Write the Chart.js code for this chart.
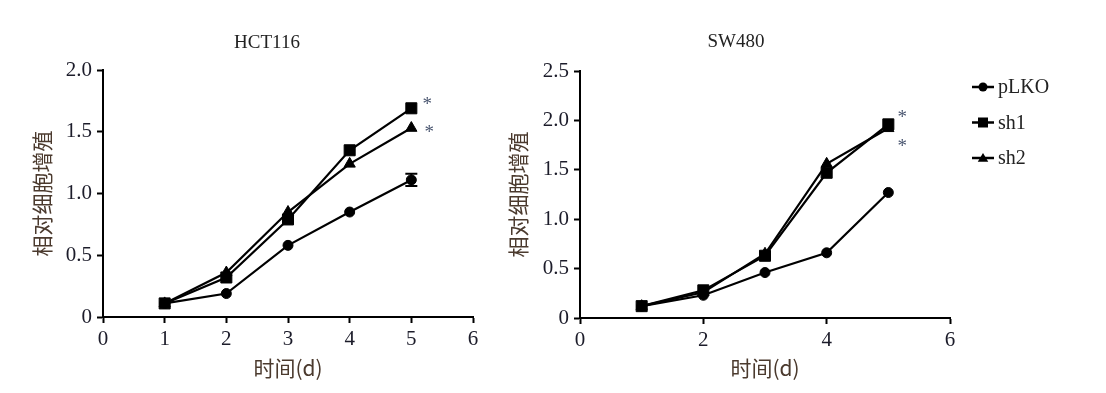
<!DOCTYPE html>
<html>
<head>
<meta charset="utf-8">
<script src="https://cdn.jsdelivr.net/npm/chart.js@4.4.1/dist/chart.umd.min.js"></script>
<style>
  html, body { margin: 0; padding: 0; background: #fff; }
  body { width: 1106px; height: 393px; position: relative; overflow: hidden; }
  canvas { position: absolute; top: 0; }
  #hctChart { left: 0; }
  #swChart { left: 500px; }
</style>
</head>
<body>
<canvas id="hctChart" width="500" height="393"></canvas>
<canvas id="swChart" width="606" height="393"></canvas>
<script>
// --- Daten ---
const TAGE = [1, 2, 3, 4, 5];
const SERIEN = ['pLKO', 'sh1', 'sh2'];

const HCT_PLKO = [0.11, 0.19, 0.58, 0.85, 1.11];
const HCT_PLKO_FEHLER = [0, 0, 0, 0, 0.05];
const HCT_SH1 = [0.11, 0.32, 0.79, 1.35, 1.69];
const HCT_SH2 = [0.11, 0.36, 0.85, 1.24, 1.53];

const SW_PLKO = [0.12, 0.23, 0.46, 0.66, 1.27];
const SW_PLKO_FEHLER = [0, 0, 0, 0, 0];
const SW_SH1 = [0.12, 0.28, 0.63, 1.47, 1.96];
const SW_SH2 = [0.12, 0.26, 0.65, 1.56, 1.92];

const HCT_X_TICKS = [0, 1, 2, 3, 4, 5, 6];
const SW_X_TICKS = [0, 2, 4, 6];
const HCT_Y_TICKS = [0, 0.5, 1.0, 1.5, 2.0];
const SW_Y_TICKS = [0, 0.5, 1.0, 1.5, 2.0, 2.5];

const Y_TITEL = '相对细胞增殖';
const X_TITEL = '时间(d)';

// --- Stil ---
const SERIF = "'Liberation Serif', 'Noto Sans CJK SC', serif";
const CJK = "'Noto Sans CJK SC', 'Liberation Serif', serif";
const FARBE_TICKS = '#1c1c2a';
const FARBE_ACHSENTITEL = '#4b3a2e';
const FARBE_STERN = '#4a5670';
const MARKER = [
  { style: 'circle', radius: 5 },
  { style: 'rect', radius: 7.8 },
  { style: 'triangle', radius: 6.5 },
];

function tickLabel(v) {
  return v === 0 ? '0' : v.toFixed(1);
}

// Marker für die Legende selbst zeichnen
function zeichneMarker(ctx, style, x, y, r) {
  ctx.beginPath();
  if (style === 'circle') {
    ctx.arc(x, y, r, 0, Math.PI * 2);
  } else if (style === 'rect') {
    ctx.rect(x - r, y - r, 2 * r, 2 * r);
  } else {
    ctx.moveTo(x, y - r);
    ctx.lineTo(x + r * 1.05, y + r * 0.75);
    ctx.lineTo(x - r * 1.05, y + r * 0.75);
    ctx.closePath();
  }
  ctx.fill();
}

const beschriftung = {
  id: 'beschriftung',
  afterDatasetsDraw(chart, args, opts) {
    const ctx = chart.ctx;
    const xs = chart.scales.x;
    const ys = chart.scales.y;
    ctx.save();

    // Panel-Titel
    ctx.fillStyle = '#222';
    ctx.font = `19px ${SERIF}`;
    ctx.textAlign = 'center';
    ctx.textBaseline = 'middle';
    ctx.fillText(opts.titel, opts.titelX, opts.titelY);

    // Fehlerbalken
    ctx.strokeStyle = '#000';
    ctx.lineWidth = 2;
    opts.fehler.forEach((f, i) => {
      if (!f) return;
      const px = xs.getPixelForValue(TAGE[i]);
      const oben = ys.getPixelForValue(opts.mittel[i] + f);
      const unten = ys.getPixelForValue(opts.mittel[i] - f);
      ctx.beginPath();
      ctx.moveTo(px, oben); ctx.lineTo(px, unten);
      ctx.moveTo(px - 6, oben); ctx.lineTo(px + 6, oben);
      ctx.moveTo(px - 6, unten); ctx.lineTo(px + 6, unten);
      ctx.stroke();
    });

    // Signifikanz-Sterne
    ctx.fillStyle = FARBE_STERN;
    ctx.font = `19px ${SERIF}`;
    ctx.textBaseline = 'alphabetic';
    opts.sterne.forEach(s => {
      const daten = chart.data.datasets[s.dataset].data;
      const letzter = daten[daten.length - 1];
      const px = xs.getPixelForValue(letzter.x) + s.dx;
      const py = ys.getPixelForValue(letzter.y) + s.dy;
      ctx.fillText('*', px, py + 10);
    });

    // Legende (nur rechtes Panel)
    if (opts.legende) {
      const { x, y0, abstand } = opts.legende;
      ctx.textAlign = 'left';
      ctx.textBaseline = 'middle';
      ctx.font = `20px ${SERIF}`;
      SERIEN.forEach((name, i) => {
        const y = y0 + i * abstand;
        ctx.strokeStyle = '#000';
        ctx.fillStyle = '#000';
        ctx.lineWidth = 2.5;
        ctx.beginPath();
        ctx.moveTo(x, y); ctx.lineTo(x + 22, y);
        ctx.stroke();
        const m = MARKER[i];
        zeichneMarker(ctx, m.style, x + 11, y, m.style === 'circle' ? 4.5 : 5);
        ctx.fillStyle = '#222';
        ctx.fillText(name, x + 26, y + 1);
      });
    }
    ctx.restore();
  }
};

function datensatz(name, werte, idx) {
  return {
    label: name,
    data: TAGE.map((t, i) => ({ x: t, y: werte[i] })),
    borderColor: '#000',
    backgroundColor: '#000',
    borderWidth: 2.2,
    tension: 0,
    pointStyle: MARKER[idx].style,
    pointRadius: MARKER[idx].radius,
    pointBackgroundColor: '#000',
    pointBorderColor: '#000',
    pointBorderWidth: 1,
    clip: false,
  };
}

function erstelleChart(canvasId, cfg) {
  const tickFont = { family: SERIF, size: 21 };
  const titelFont = { family: CJK, size: 21 };
  return new Chart(document.getElementById(canvasId), {
    type: 'line',
    data: {
      datasets: [
        datensatz(SERIEN[0], cfg.plko, 0),
        datensatz(SERIEN[1], cfg.sh1, 1),
        datensatz(SERIEN[2], cfg.sh2, 2),
      ],
    },
    options: {
      responsive: false,
      animation: false,
      devicePixelRatio: 1,
      layout: { padding: { left: 0, top: cfg.oben, right: cfg.rechts, bottom: 0 } },
      plugins: {
        legend: { display: false },
        tooltip: { enabled: false },
        beschriftung: {
          titel: cfg.titel, titelX: cfg.titelX, titelY: cfg.titelY,
          mittel: cfg.plko, fehler: cfg.fehler,
          sterne: cfg.sterne, legende: cfg.legende,
        },
      },
      scales: {
        x: {
          type: 'linear',
          min: 0,
          max: 6,
          afterFit: s => { s.height = cfg.xHoehe; },
          afterBuildTicks: s => { s.ticks = cfg.xTicks.map(v => ({ value: v })); },
          ticks: { color: FARBE_TICKS, font: tickFont, padding: 4, maxRotation: 0 },
          grid: { drawOnChartArea: false, drawTicks: true, tickLength: 6, tickColor: '#000', tickWidth: 2, color: '#000' },
          border: { display: true, color: '#000', width: 2 },
          title: { display: true, text: X_TITEL, color: FARBE_ACHSENTITEL, font: titelFont, padding: { top: 0, bottom: 12 } },
        },
        y: {
          type: 'linear',
          min: 0,
          max: cfg.yMax,
          afterFit: s => { s.width = cfg.yBreite; },
          afterBuildTicks: s => { s.ticks = cfg.yTicks.map(v => ({ value: v })); },
          ticks: { color: FARBE_TICKS, font: tickFont, padding: 5, callback: v => tickLabel(v) },
          grid: { drawOnChartArea: false, drawTicks: true, tickLength: 6, tickColor: '#000', tickWidth: 2, color: '#000' },
          border: { display: true, color: '#000', width: 2 },
          title: { display: true, text: Y_TITEL, color: FARBE_ACHSENTITEL, font: titelFont, padding: { top: cfg.yTitelAbstand, bottom: 0 } },
        },
      },
    },
    plugins: [beschriftung],
  });
}

erstelleChart('hctChart', {
  plko: HCT_PLKO, sh1: HCT_SH1, sh2: HCT_SH2, fehler: HCT_PLKO_FEHLER,
  xTicks: HCT_X_TICKS, yTicks: HCT_Y_TICKS, yMax: 2.0,
  oben: 70, rechts: 27, xHoehe: 76, yBreite: 103, yTitelAbstand: 29,
  titel: 'HCT116', titelX: 267, titelY: 43,
  sterne: [{ dataset: 1, dx: 16, dy: -8 }, { dataset: 2, dx: 18, dy: 0 }],
  legende: null,
});

erstelleChart('swChart', {
  plko: SW_PLKO, sh1: SW_SH1, sh2: SW_SH2, fehler: SW_PLKO_FEHLER,
  xTicks: SW_X_TICKS, yTicks: SW_Y_TICKS, yMax: 2.5,
  oben: 71, rechts: 156, xHoehe: 75, yBreite: 80, yTitelAbstand: 5,
  titel: 'SW480', titelX: 236, titelY: 42,
  sterne: [{ dataset: 1, dx: 14, dy: -11 }, { dataset: 2, dx: 14, dy: 14 }],
  legende: { x: 472, y0: 87, abstand: 35.5 },
});
</script>
</body>
</html>
